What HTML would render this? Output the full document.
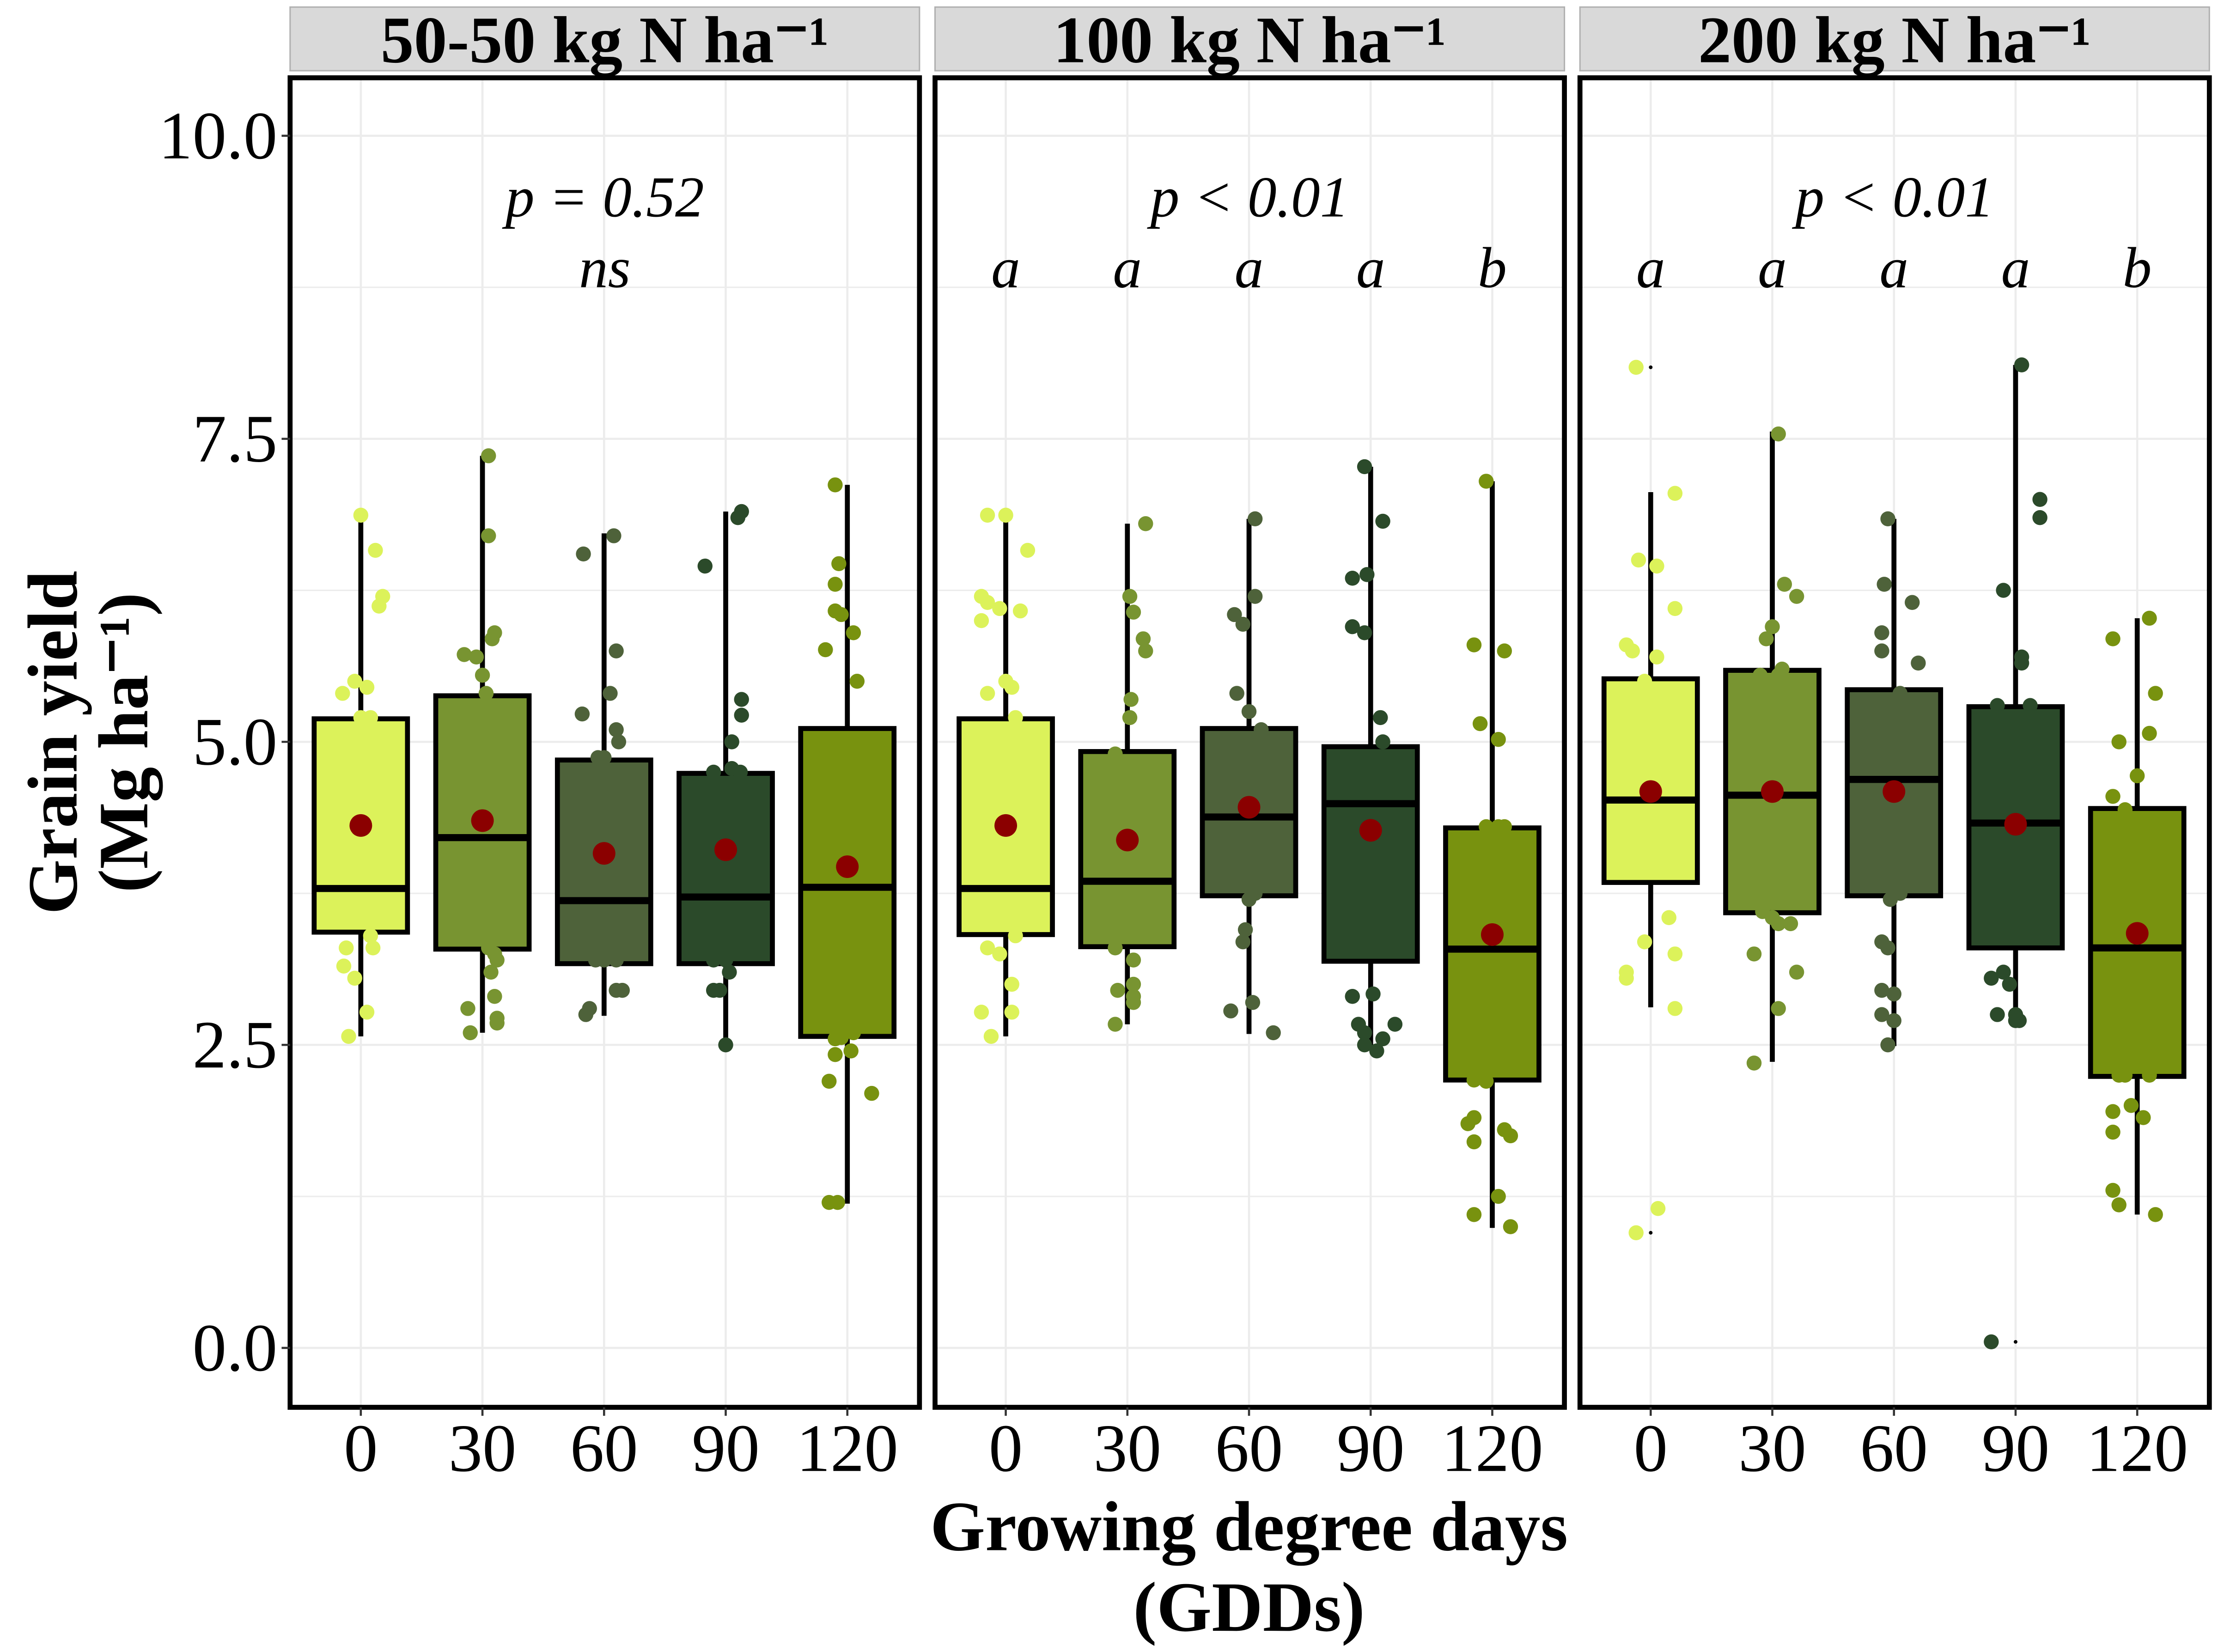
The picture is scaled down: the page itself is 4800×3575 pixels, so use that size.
<!DOCTYPE html>
<html><head><meta charset="utf-8"><style>
html,body{margin:0;padding:0;background:#fff;}
svg{display:block;font-family:"Liberation Serif",serif;}
</style></head><body>
<svg id="chart" width="4800" height="3575" viewBox="0 0 1568 1168" xmlns="http://www.w3.org/2000/svg"></svg>
<script>
const panels = ["50-50 kg N ha\u207B\u00B9","100 kg N ha\u207B\u00B9","200 kg N ha\u207B\u00B9"];
const categories = ["0","30","60","90","120"];
const pLabels = ["p = 0.52","p < 0.01","p < 0.01"];
const groupLetters = [["ns"],["a","a","a","a","b"],["a","a","a","a","b"]];
const yTicks = [0,2.5,5,7.5,10];
const yTickLabels = ["0.0","2.5","5.0","7.5","10.0"];
// [q1, median, q3, whiskerLow, whiskerHigh, mean]
const boxes1 = [[3.43,3.79,5.19,2.57,6.85,4.31],[3.29,4.21,5.38,2.60,7.36,4.35],[3.17,3.69,4.85,2.74,6.72,4.08],[3.17,3.72,4.74,2.47,6.90,4.11],[2.57,3.80,5.11,1.19,7.12,3.97]];
const boxes2 = [[3.41,3.79,5.19,2.57,6.85,4.31],[3.31,3.85,4.92,2.67,6.80,4.19],[3.73,4.38,5.11,2.59,6.84,4.46],[3.19,4.49,4.96,2.47,7.27,4.27],[2.21,3.29,4.29,0.99,7.15,3.41]];
const boxes3 = [[3.84,4.52,5.52,2.81,7.06,4.59],[3.59,4.56,5.59,2.36,7.56,4.59],[3.73,4.69,5.43,2.49,6.84,4.59],[3.30,4.33,5.29,2.74,8.11,4.32],[2.24,3.30,4.45,1.10,6.02,3.42]];
const outliers3 = [[0,8.09],[0,0.95],[3,0.05]];
// jittered observations: [jitter (category units), value]
const pts1 = [
 [[0,6.87],[.12,6.58],[.18,6.2],[.15,6.12],[-.15,5.4],[-.05,5.5],[.05,5.45],[.0,5.2],[.08,5.2],[-.1,3.8],[-.05,3.8],[-.12,3.3],[.1,3.3],[-.14,3.15],[.08,3.4],[-.05,3.05],[.05,2.77],[-.1,2.57],[-.2,3.7]],
 [[.05,7.36],[.05,6.7],[.1,5.9],[.08,5.85],[-.15,5.72],[-.05,5.7],[0,5.55],[.03,5.4],[-.1,4.21],[-.03,4.2],[.05,3.3],[.1,3.25],[.12,3.2],[.07,3.1],[.1,2.9],[-.12,2.8],[.12,2.72],[.12,2.68],[-.1,2.6]],
 [[.08,6.7],[-.17,6.55],[.1,5.75],[.05,5.4],[-.18,5.23],[.1,5.1],[.12,5.0],[-.05,4.87],[0,4.87],[.1,3.7],[.12,3.75],[-.07,3.2],[.1,3.2],[0,3.2],[.1,2.95],[.15,2.95],[-.15,2.75],[-.12,2.8]],
 [[.13,6.9],[.1,6.85],[-.17,6.45],[.13,5.35],[.13,5.22],[.05,5.0],[-.1,4.75],[.05,4.78],[.12,4.75],[0,4.0],[-.02,3.7],[-.1,3.2],[0,3.2],[.03,3.1],[-.1,2.95],[-.05,2.95],[0,2.5]],
 [[-.1,7.12],[-.07,6.47],[-.1,6.3],[-.1,6.08],[-.05,6.05],[.05,5.9],[-.18,5.76],[.08,5.5],[-.2,4.3],[-.1,2.55],[-.05,2.56],[.05,2.6],[-.1,2.42],[.03,2.45],[-.15,2.2],[.2,2.1],[-.15,1.2],[-.08,1.2]]];
const pts2 = [
 [[0,6.87],[-.15,6.87],[.18,6.58],[-.2,6.2],[-.15,6.15],[-.05,6.1],[-.2,6.0],[.12,6.08],[0,5.5],[.05,5.45],[-.15,5.4],[.08,5.2],[-.1,3.8],[-.05,3.7],[.05,3.5],[-.12,3.6],[-.15,3.3],[.08,3.4],[-.05,3.25],[.05,2.77],[-.2,2.77],[-.12,2.57],[.05,3.0]],
 [[.15,6.8],[.02,6.2],[.05,6.07],[.15,5.75],[.13,5.85],[.03,5.35],[.02,5.2],[-.1,4.9],[-.05,3.85],[-.1,3.3],[.05,3.2],[.05,3.0],[-.08,2.95],[.05,2.9],[.05,2.85],[-.1,2.67]],
 [[.05,6.84],[.05,6.2],[-.12,6.05],[-.05,5.97],[-.1,5.4],[.0,5.25],[.1,5.1],[-.05,4.4],[.0,4.38],[.05,3.75],[.0,3.7],[-.03,3.45],[-.05,3.35],[-.15,2.78],[.03,2.85],[.2,2.6]],
 [[-.05,7.27],[.1,6.82],[-.15,6.35],[-.03,6.38],[-.05,5.9],[-.15,5.95],[.08,5.2],[.1,5.0],[.15,4.5],[-.15,2.9],[.02,2.92],[-.1,2.67],[-.05,2.6],[.2,2.67],[.1,2.55],[.05,2.45],[-.05,2.5]],
 [[-.05,7.15],[-.15,5.8],[.1,5.75],[-.1,5.15],[.05,5.02],[-.05,4.3],[.1,4.3],[.05,4.3],[-.1,3.3],[0,3.3],[-.15,2.21],[-.05,2.2],[-.15,1.9],[-.2,1.85],[.1,1.8],[-.15,1.7],[.15,1.75],[-.15,1.1],[.05,1.25],[.15,1.0]]];
const pts3 = [
 [[-.12,8.09],[-.1,6.5],[.2,7.05],[.05,6.45],[.2,6.1],[-.2,5.8],[-.15,5.75],[.05,5.7],[-.05,5.5],[-.1,4.5],[0,4.55],[-.2,3.1],[-.2,3.05],[-.05,3.35],[.15,3.55],[.2,3.25],[.2,2.8],[.06,1.15],[-.12,0.95]],
 [[.05,7.54],[.1,6.3],[.2,6.2],[.0,5.95],[-.05,5.85],[.08,5.6],[-.1,5.55],[.05,5.55],[-.05,4.55],[.05,4.56],[-.08,3.6],[.05,3.5],[.15,3.5],[-.15,3.25],[.2,3.1],[.05,2.8],[-.15,2.35],[0,3.55]],
 [[-.05,6.84],[-.08,6.3],[.15,6.15],[-.1,5.9],[-.1,5.75],[.2,5.65],[.05,5.4],[-.05,4.7],[0,4.65],[.05,3.75],[-.03,3.7],[-.1,3.35],[-.05,3.3],[-.1,2.95],[0,2.92],[-.1,2.75],[.0,2.7],[-.05,2.5]],
 [[-.1,6.25],[.05,8.11],[.2,7.0],[.2,6.85],[.05,5.7],[.05,5.65],[.12,5.3],[-.15,5.3],[-.05,4.3],[.0,4.35],[-.2,3.05],[-.1,3.1],[-.05,3.0],[.0,2.75],[-.15,2.75],[.0,2.7],[.03,2.7],[-.2,0.05]],
 [[.1,6.02],[-.2,5.85],[.15,5.4],[-.15,5.0],[.1,5.07],[-.2,4.55],[.0,4.72],[-.1,4.44],[0,3.3],[-.1,2.25],[-.15,2.25],[.1,2.25],[-.05,2.0],[-.2,1.95],[-.2,1.78],[.05,1.9],[-.2,1.3],[-.15,1.18],[.15,1.1]]];
const boxesAll = [boxes1,boxes2,boxes3];
const ptsAll = [pts1,pts2,pts3];
const fills = ["#dcf25a","#789431","#4e623a","#2b4a2a","#78920f"];
const NS="http://www.w3.org/2000/svg";
const svg=document.getElementById('chart');
function mk(tag,attrs,parent,text){const e=document.createElementNS(NS,tag);for(const k in attrs)e.setAttribute(k,attrs[k]);if(text!==undefined)e.textContent=text;(parent||svg).appendChild(e);return e;}
const panelX=[205,661,1117], panelW=445, pTop=55, pBot=995;
function yS(v){return 953-v*85.7;}
function xS(p,i){return panelX[p]+50+i*86;}
for(let p=0;p<3;p++){
  const g=mk('g',{});
  
  
  const strip=mk('rect',{x:panelX[p],y:5,width:panelW,height:45,fill:'#d9d9d9',stroke:'#b0b0b0','stroke-width':1},g);
  
  
  const st=mk('text',{x:panelX[p]+panelW/2,y:44,'text-anchor':'middle','font-size':47,'font-weight':'bold'},g,panels[p]);
  
  
  for(let v=0;v<=10;v+=1.25){mk('line',{x1:panelX[p],x2:panelX[p]+panelW,y1:yS(v),y2:yS(v),stroke:'#ececec','stroke-width':v%2.5===0?1.5:1},g);}
  for(let i=0;i<5;i++){mk('line',{x1:xS(p,i),x2:xS(p,i),y1:pTop,y2:pBot,stroke:'#ececec','stroke-width':1.5},g);}
  const pt=mk('text',{x:panelX[p]+panelW/2,y:153,'text-anchor':'middle','font-size':41,'font-style':'italic'},g,pLabels[p]);
  
  
  const L=groupLetters[p];
  for(let i=0;i<L.length;i++){
    const lx=L.length===1?panelX[p]+panelW/2:xS(p,i);
    const lt=mk('text',{x:lx,y:203,'text-anchor':'middle','font-size':41,'font-style':'italic'},g,L[i]);
    
    
  }
  for(let i=0;i<5;i++){
    const b=boxesAll[p][i], cx=xS(p,i);
    const bg=mk('g',{},g);
    
    
    mk('line',{x1:cx,x2:cx,y1:yS(b[4]),y2:yS(b[3]),stroke:'#000','stroke-width':3.5},bg);
    mk('rect',{x:cx-33,y:yS(b[2]),width:66,height:yS(b[0])-yS(b[2]),fill:fills[i],stroke:'#000','stroke-width':3.5},bg);
  }
  for(let i=0;i<5;i++){
    for(const d of ptsAll[p][i]){
      const c=mk('circle',{cx:xS(p,i)+d[0]*86,cy:yS(d[1]),r:5.3,fill:fills[i]},g);
      
      
    }
  }
  for(let i=0;i<5;i++){
    const b=boxesAll[p][i], cx=xS(p,i);
    mk('line',{x1:cx-33,x2:cx+33,y1:yS(b[1]),y2:yS(b[1]),stroke:'#000','stroke-width':5},g);
    const m=mk('circle',{cx:cx,cy:yS(b[5]),r:8,fill:'#8b0000'},g);
    
    
  }
  if(p===2){for(const o of outliers3){
    const od=mk('circle',{cx:xS(p,o[0]),cy:yS(o[1]),r:1.3,fill:'#000'},g);
    
    
  }}
  const fr=mk('rect',{x:panelX[p],y:pTop,width:panelW,height:pBot-pTop,fill:'none',stroke:'#000','stroke-width':3.5},g);
  
  
  for(let i=0;i<5;i++){
    mk('line',{x1:xS(p,i),x2:xS(p,i),y1:pBot,y2:pBot+6,stroke:'#333','stroke-width':1.5},g);
    const xt=mk('text',{x:xS(p,i),y:1040,'text-anchor':'middle','font-size':48},g,categories[i]);
    
    
  }
}
for(let k=0;k<yTicks.length;k++){
  mk('line',{x1:199,x2:205,y1:yS(yTicks[k]),y2:yS(yTicks[k]),stroke:'#333','stroke-width':1.5});
  const t=mk('text',{x:196,y:yS(yTicks[k])+16,'text-anchor':'end','font-size':48},svg,yTickLabels[k]);
  
  
}
const xt1=mk('text',{x:883,y:1096,'text-anchor':'middle','font-size':50,'font-weight':'bold'},svg,'Growing degree days');


const xt2=mk('text',{x:883,y:1153,'text-anchor':'middle','font-size':50,'font-weight':'bold'},svg,'(GDDs)');


const yt=mk('text',{transform:'translate(54,525) rotate(-90)','text-anchor':'middle','font-size':50,'font-weight':'bold'},svg,'Grain yield');


const yt2=mk('text',{transform:'translate(104,525) rotate(-90)','text-anchor':'middle','font-size':50,'font-weight':'bold'},svg,'(Mg ha\u207B\u00B9)');


</script>
</body></html>
